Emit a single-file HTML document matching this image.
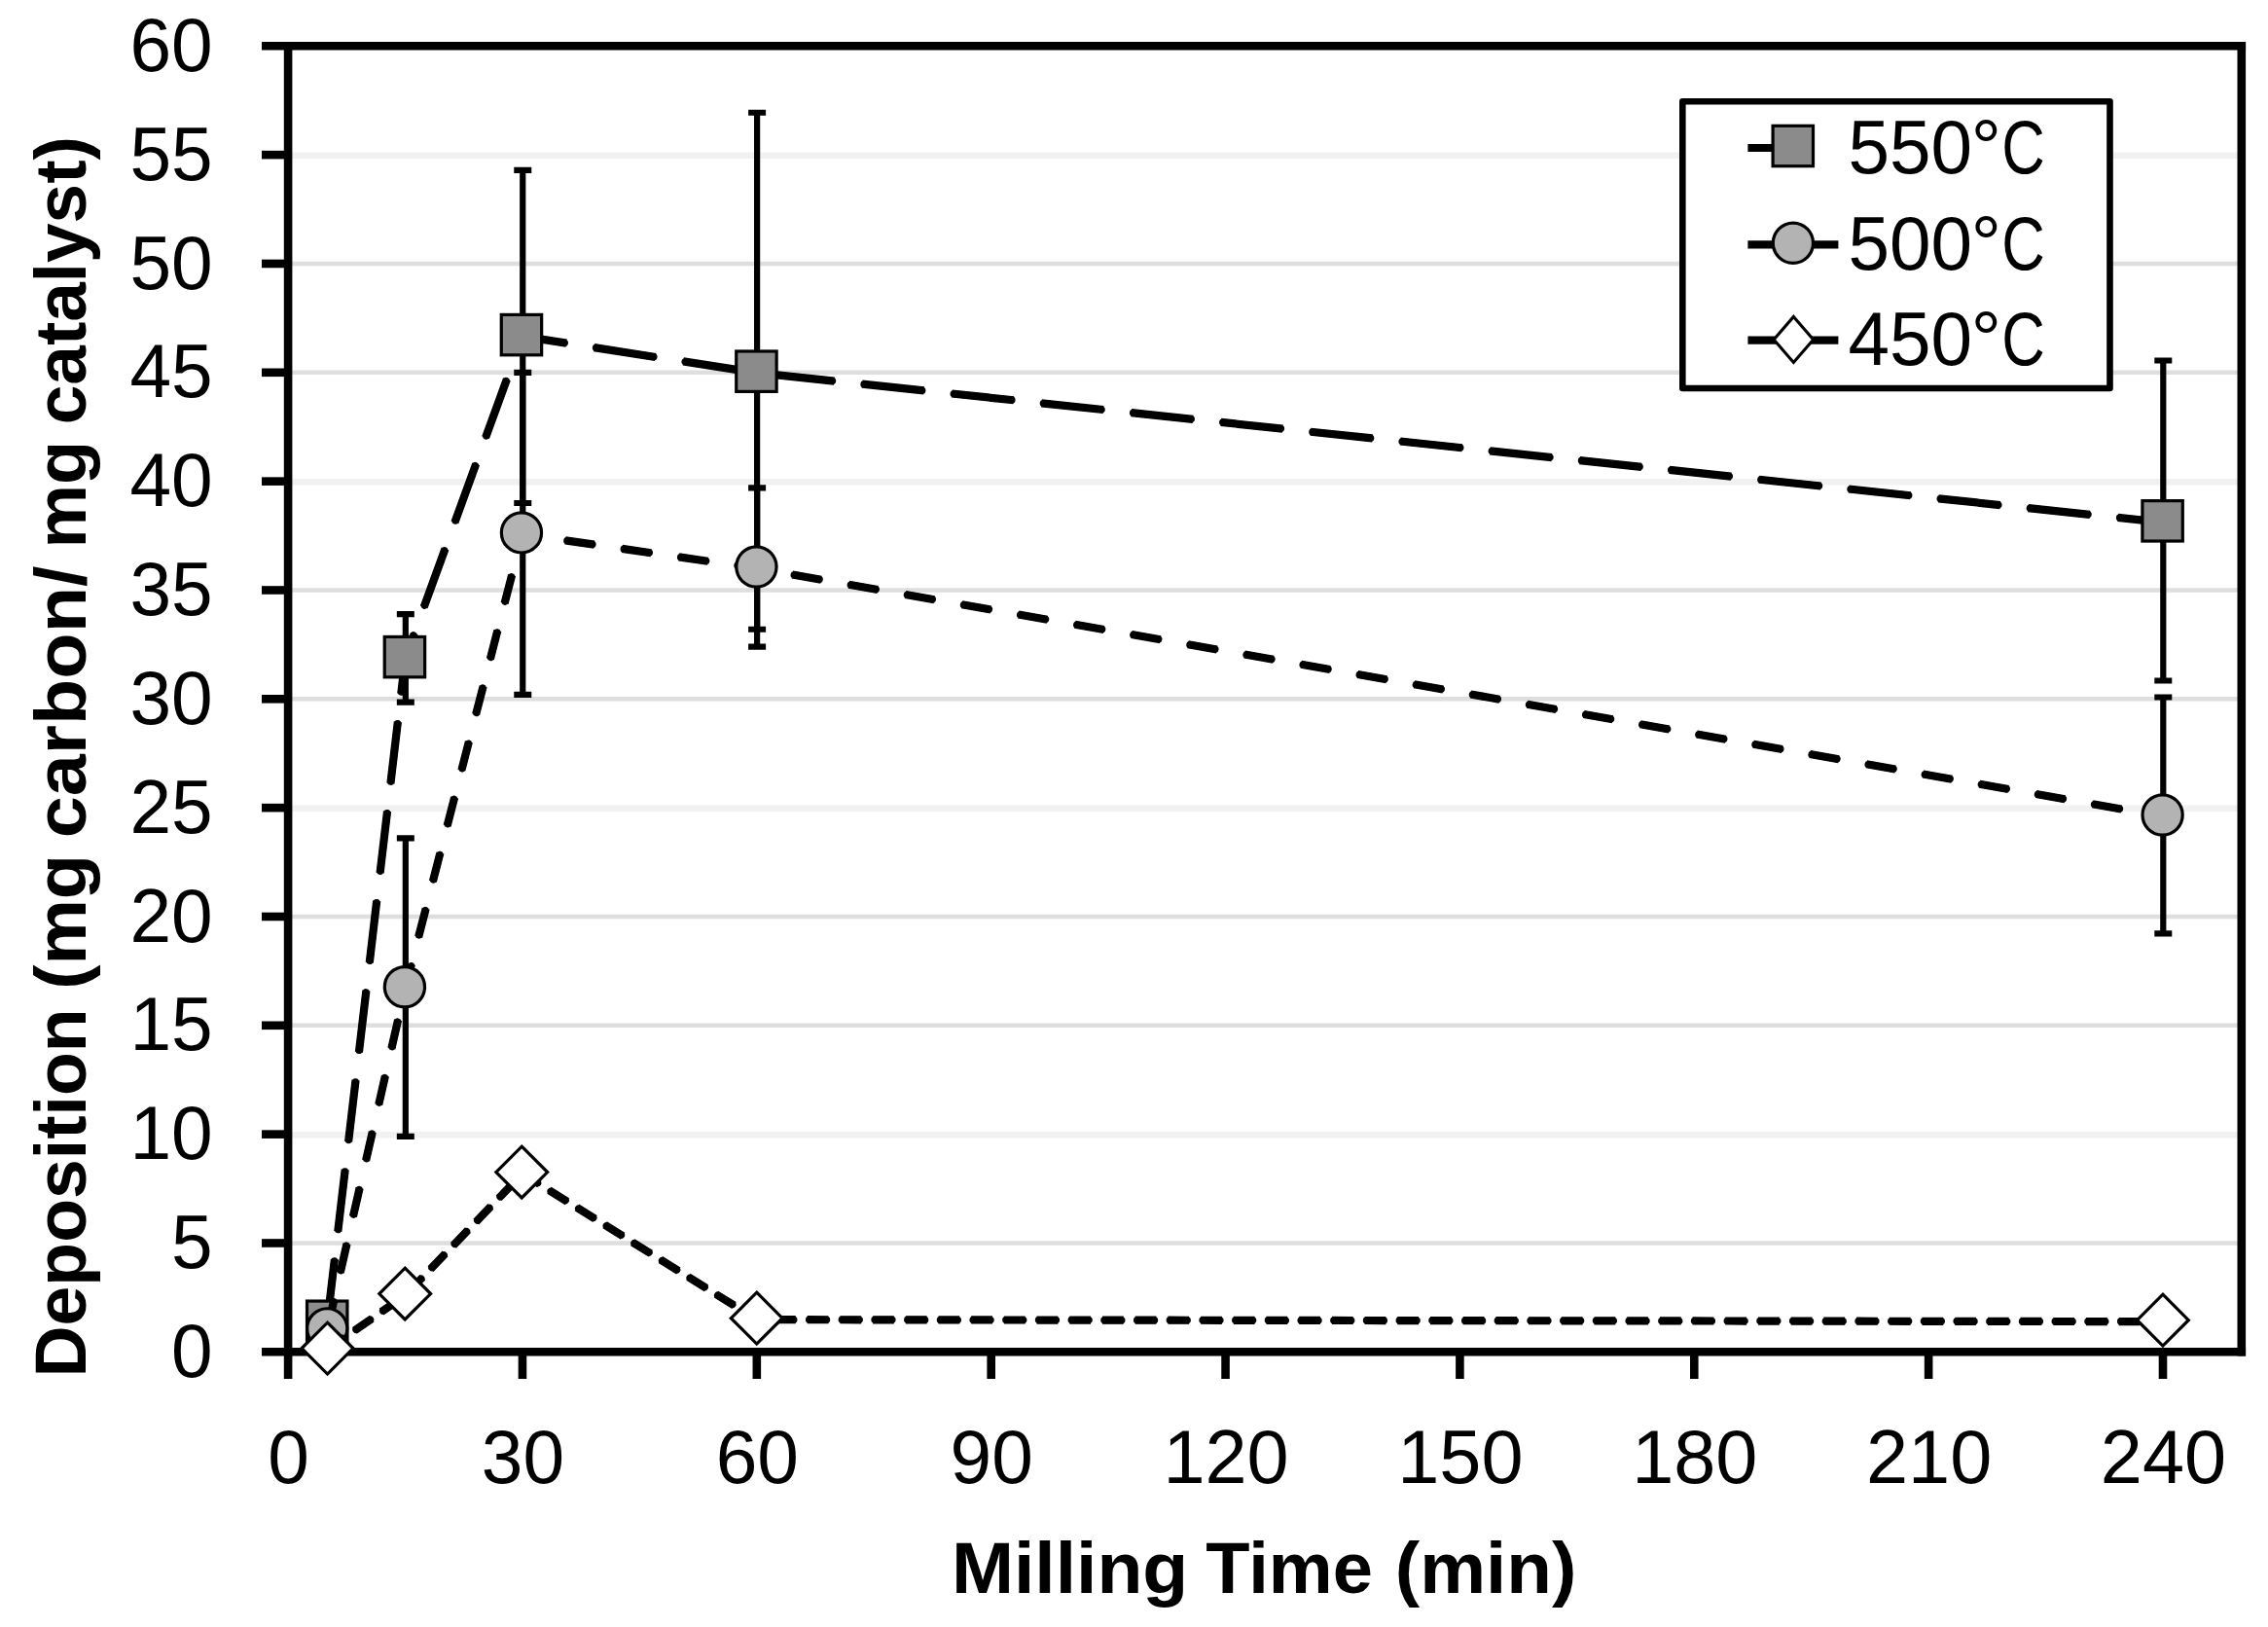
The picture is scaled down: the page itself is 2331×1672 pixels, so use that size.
<!DOCTYPE html>
<html lang="en"><head><meta charset="utf-8"><title>Deposition vs Milling Time</title>
<style>html,body{margin:0;padding:0;background:#fff}svg{display:block}text{font-family:"Liberation Sans",sans-serif;fill:#000}.b{font-weight:bold}</style></head><body>
<svg width="2331" height="1672" viewBox="0 0 2331 1672">
<rect width="2331" height="1672" fill="#fff"/>
<g fill="none">
<line x1="296.1" x2="2303.8" y1="1277.47" y2="1277.47" stroke="#dedede" stroke-width="4.6"/>
<line x1="296.1" x2="2303.8" y1="1166.23" y2="1166.23" stroke="#f1f1f1" stroke-width="6.6"/>
<line x1="296.1" x2="2303.8" y1="1053.80" y2="1053.80" stroke="#dedede" stroke-width="4.6"/>
<line x1="296.1" x2="2303.8" y1="941.97" y2="941.97" stroke="#dedede" stroke-width="4.6"/>
<line x1="296.1" x2="2303.8" y1="830.73" y2="830.73" stroke="#f1f1f1" stroke-width="6.6"/>
<line x1="296.1" x2="2303.8" y1="718.30" y2="718.30" stroke="#dedede" stroke-width="4.6"/>
<line x1="296.1" x2="2303.8" y1="606.47" y2="606.47" stroke="#dedede" stroke-width="4.6"/>
<line x1="296.1" x2="2303.8" y1="495.23" y2="495.23" stroke="#f1f1f1" stroke-width="6.6"/>
<line x1="296.1" x2="2303.8" y1="382.80" y2="382.80" stroke="#dedede" stroke-width="4.6"/>
<line x1="296.1" x2="2303.8" y1="270.97" y2="270.97" stroke="#dedede" stroke-width="4.6"/>
<line x1="296.1" x2="2303.8" y1="159.73" y2="159.73" stroke="#f1f1f1" stroke-width="6.6"/>
</g>
<g stroke="#000" stroke-width="8.6" fill="none" stroke-linecap="butt">
<line x1="269" x2="2308.10" y1="47.3" y2="47.3"/>
<line x1="269" x2="2308.10" y1="1389.3" y2="1389.3"/>
<line x1="296.1" x2="296.1" y1="43.00" y2="1417"/>
<line x1="2303.8" x2="2303.8" y1="43.00" y2="1393.60"/>
<line x1="269" x2="296.1" y1="1277.47" y2="1277.47"/>
<line x1="269" x2="296.1" y1="1165.63" y2="1165.63"/>
<line x1="269" x2="296.1" y1="1053.80" y2="1053.80"/>
<line x1="269" x2="296.1" y1="941.97" y2="941.97"/>
<line x1="269" x2="296.1" y1="830.13" y2="830.13"/>
<line x1="269" x2="296.1" y1="718.30" y2="718.30"/>
<line x1="269" x2="296.1" y1="606.47" y2="606.47"/>
<line x1="269" x2="296.1" y1="494.63" y2="494.63"/>
<line x1="269" x2="296.1" y1="382.80" y2="382.80"/>
<line x1="269" x2="296.1" y1="270.97" y2="270.97"/>
<line x1="269" x2="296.1" y1="159.13" y2="159.13"/>
<line x1="536.96" x2="536.96" y1="1389.3" y2="1417"/>
<line x1="777.83" x2="777.83" y1="1389.3" y2="1417"/>
<line x1="1018.69" x2="1018.69" y1="1389.3" y2="1417"/>
<line x1="1259.55" x2="1259.55" y1="1389.3" y2="1417"/>
<line x1="1500.41" x2="1500.41" y1="1389.3" y2="1417"/>
<line x1="1741.28" x2="1741.28" y1="1389.3" y2="1417"/>
<line x1="1982.14" x2="1982.14" y1="1389.3" y2="1417"/>
<line x1="2223.00" x2="2223.00" y1="1389.3" y2="1417"/>
</g>
<g id="s550">
<polyline points="336.24,1359.26 416.53,676.63 536.96,345.61 777.83,383.18 2223.00,536.84" fill="none" stroke="#000" stroke-width="8.2" stroke-dasharray="63.80 28.90" stroke-dashoffset="-1.80"/>
<polyline points="336.24,1359.26 416.53,676.63 536.96,345.61 777.83,383.18 2223.00,536.84" fill="none" stroke="#000" stroke-width="7.00" stroke-linecap="round" stroke-dasharray="60.40 32.30" stroke-dashoffset="-3.50"/>
<path d="M416.83 631.07V721.65M407.83 631.07H425.83M407.83 721.65H425.83" stroke="#000" stroke-width="6.2" fill="none"/>
<path d="M537.26 174.79V517.00M528.26 174.79H546.26M528.26 517.00H546.26" stroke="#000" stroke-width="6.2" fill="none"/>
<path d="M778.12 115.74V646.73M769.12 115.74H787.12M769.12 646.73H787.12" stroke="#000" stroke-width="6.2" fill="none"/>
<path d="M2223.30 370.50V699.51M2214.30 370.50H2232.30M2214.30 699.51H2232.30" stroke="#000" stroke-width="6.2" fill="none"/>
<rect x="315.54" y="1337.06" width="41.4" height="41.4" fill="#8b8b8b" stroke="#000" stroke-width="3.2"/>
<rect x="395.23" y="654.43" width="41.4" height="41.4" fill="#8b8b8b" stroke="#000" stroke-width="3.2"/>
<rect x="515.26" y="323.41" width="41.4" height="41.4" fill="#8b8b8b" stroke="#000" stroke-width="3.2"/>
<rect x="756.73" y="360.98" width="41.4" height="41.4" fill="#8b8b8b" stroke="#000" stroke-width="3.2"/>
<rect x="2201.90" y="514.64" width="41.4" height="41.4" fill="#8b8b8b" stroke="#000" stroke-width="3.2"/>
</g>
<g id="s500">
<polyline points="336.24,1366.87 416.53,1015.71 536.96,548.92 777.83,584.03 2223.00,839.01" fill="none" stroke="#000" stroke-width="8.2" stroke-dasharray="30.10 28.90" stroke-dashoffset="-1.80"/>
<polyline points="336.24,1366.87 416.53,1015.71 536.96,548.92 777.83,584.03 2223.00,839.01" fill="none" stroke="#000" stroke-width="7.00" stroke-linecap="round" stroke-dasharray="26.70 32.30" stroke-dashoffset="-3.50"/>
<path d="M416.83 861.45V1167.87M407.83 861.45H425.83M407.83 1167.87H425.83" stroke="#000" stroke-width="6.2" fill="none"/>
<path d="M537.26 382.80V713.83M528.26 382.80H546.26M528.26 713.83H546.26" stroke="#000" stroke-width="6.2" fill="none"/>
<path d="M778.12 501.34V664.62M769.12 501.34H787.12M769.12 664.62H787.12" stroke="#000" stroke-width="6.2" fill="none"/>
<path d="M2223.30 716.51V959.41M2214.30 716.51H2232.30M2214.30 959.41H2232.30" stroke="#000" stroke-width="6.2" fill="none"/>
<circle cx="336.24" cy="1365.37" r="20.6" fill="#b3b3b3" stroke="#000" stroke-width="3.2"/>
<circle cx="415.93" cy="1014.21" r="20.6" fill="#b3b3b3" stroke="#000" stroke-width="3.2"/>
<circle cx="535.96" cy="547.42" r="20.6" fill="#b3b3b3" stroke="#000" stroke-width="3.2"/>
<circle cx="777.43" cy="582.53" r="20.6" fill="#b3b3b3" stroke="#000" stroke-width="3.2"/>
<circle cx="2222.60" cy="837.51" r="20.6" fill="#b3b3b3" stroke="#000" stroke-width="3.2"/>
</g>
<g id="s450">
<polyline points="336.24,1387.11 416.53,1331.08 536.96,1206.05 777.83,1356.13 2223.00,1358.14" fill="none" stroke="#000" stroke-width="8.2" stroke-dasharray="21.70 12.00" stroke-dashoffset="-0.60"/>
<polyline points="336.24,1387.11 416.53,1331.08 536.96,1206.05 777.83,1356.13 2223.00,1358.14" fill="none" stroke="#000" stroke-width="7.00" stroke-linecap="round" stroke-dasharray="18.30 15.40" stroke-dashoffset="-2.30"/>
<path d="M336.54 1359.21L362.94 1385.61L336.54 1412.01L310.14 1385.61Z" fill="#fff" stroke="#000" stroke-width="3.2" stroke-linejoin="miter"/>
<path d="M416.23 1303.18L442.63 1329.58L416.23 1355.98L389.83 1329.58Z" fill="#fff" stroke="#000" stroke-width="3.2" stroke-linejoin="miter"/>
<path d="M536.26 1178.15L562.66 1204.55L536.26 1230.95L509.86 1204.55Z" fill="#fff" stroke="#000" stroke-width="3.2" stroke-linejoin="miter"/>
<path d="M777.73 1328.23L804.12 1354.63L777.73 1381.03L751.33 1354.63Z" fill="#fff" stroke="#000" stroke-width="3.2" stroke-linejoin="miter"/>
<path d="M2222.90 1330.24L2249.30 1356.64L2222.90 1383.04L2196.50 1356.64Z" fill="#fff" stroke="#000" stroke-width="3.2" stroke-linejoin="miter"/>
</g>
<g id="legend">
<rect x="1729.3" y="104.2" width="439.2" height="294.8" fill="#fff" stroke="#000" stroke-width="6.6" stroke-linejoin="round"/>
<path d="M1796.4 152.0H1859" stroke="#000" stroke-width="8.2" fill="none"/>
<rect x="1822.10" y="129.30" width="41.4" height="41.4" fill="#8b8b8b" stroke="#000" stroke-width="3.2"/>
<path d="M1796.4 251.4H1830M1855 251.4H1889.4" stroke="#000" stroke-width="8.2" fill="none"/>
<circle cx="1842.90" cy="249.80" r="20.6" fill="#b3b3b3" stroke="#000" stroke-width="3.2"/>
<path d="M1796.4 349.6H1889.4" stroke="#000" stroke-width="8.2" fill="none"/>
<path d="M1843.4 325.4L1863.7 348.9L1843.4 372.4L1823.1 348.9Z" fill="#fff" stroke="#000" stroke-width="3.1"/>
<text y="178.1" font-size="78"><tspan x="1899.5" textLength="127.6" lengthAdjust="spacingAndGlyphs">550</tspan><tspan x="2025.7">°</tspan><tspan x="2057.3" textLength="44.5" lengthAdjust="spacingAndGlyphs">C</tspan></text>
<text y="276.9" font-size="78"><tspan x="1899.5" textLength="127.6" lengthAdjust="spacingAndGlyphs">500</tspan><tspan x="2025.7">°</tspan><tspan x="2057.3" textLength="44.5" lengthAdjust="spacingAndGlyphs">C</tspan></text>
<text y="375.4" font-size="78"><tspan x="1899.5" textLength="127.6" lengthAdjust="spacingAndGlyphs">450</tspan><tspan x="2025.7">°</tspan><tspan x="2057.3" textLength="44.5" lengthAdjust="spacingAndGlyphs">C</tspan></text>
</g>
<g font-size="78">
<text x="218.7" y="1414.90" text-anchor="end" textLength="42.60" lengthAdjust="spacingAndGlyphs">0</text>
<text x="218.7" y="1303.07" text-anchor="end" textLength="42.60" lengthAdjust="spacingAndGlyphs">5</text>
<text x="218.7" y="1191.23" text-anchor="end" textLength="85.20" lengthAdjust="spacingAndGlyphs">10</text>
<text x="218.7" y="1079.40" text-anchor="end" textLength="85.20" lengthAdjust="spacingAndGlyphs">15</text>
<text x="218.7" y="967.57" text-anchor="end" textLength="85.20" lengthAdjust="spacingAndGlyphs">20</text>
<text x="218.7" y="855.73" text-anchor="end" textLength="85.20" lengthAdjust="spacingAndGlyphs">25</text>
<text x="218.7" y="743.90" text-anchor="end" textLength="85.20" lengthAdjust="spacingAndGlyphs">30</text>
<text x="218.7" y="632.07" text-anchor="end" textLength="85.20" lengthAdjust="spacingAndGlyphs">35</text>
<text x="218.7" y="520.23" text-anchor="end" textLength="85.20" lengthAdjust="spacingAndGlyphs">40</text>
<text x="218.7" y="408.40" text-anchor="end" textLength="85.20" lengthAdjust="spacingAndGlyphs">45</text>
<text x="218.7" y="296.57" text-anchor="end" textLength="85.20" lengthAdjust="spacingAndGlyphs">50</text>
<text x="218.7" y="184.73" text-anchor="end" textLength="85.20" lengthAdjust="spacingAndGlyphs">55</text>
<text x="218.7" y="72.90" text-anchor="end" textLength="85.20" lengthAdjust="spacingAndGlyphs">60</text>
<text x="296.60" y="1524" text-anchor="middle" textLength="42.60" lengthAdjust="spacingAndGlyphs">0</text>
<text x="537.46" y="1524" text-anchor="middle" textLength="85.20" lengthAdjust="spacingAndGlyphs">30</text>
<text x="778.33" y="1524" text-anchor="middle" textLength="85.20" lengthAdjust="spacingAndGlyphs">60</text>
<text x="1019.19" y="1524" text-anchor="middle" textLength="85.20" lengthAdjust="spacingAndGlyphs">90</text>
<text x="1260.05" y="1524" text-anchor="middle" textLength="129.30" lengthAdjust="spacingAndGlyphs">120</text>
<text x="1500.91" y="1524" text-anchor="middle" textLength="129.30" lengthAdjust="spacingAndGlyphs">150</text>
<text x="1741.78" y="1524" text-anchor="middle" textLength="129.30" lengthAdjust="spacingAndGlyphs">180</text>
<text x="1982.64" y="1524" text-anchor="middle" textLength="129.30" lengthAdjust="spacingAndGlyphs">210</text>
<text x="2223.50" y="1524" text-anchor="middle" textLength="129.30" lengthAdjust="spacingAndGlyphs">240</text>
</g>
<text class="b" y="1637.2" font-size="73.5"><tspan x="978.0" textLength="243.3" lengthAdjust="spacingAndGlyphs">Milling</tspan> <tspan x="1239.3" textLength="171.6" lengthAdjust="spacingAndGlyphs">Time</tspan> <tspan x="1433.8" textLength="186.6" lengthAdjust="spacingAndGlyphs">(min)</tspan></text>
<text class="b" transform="translate(87.5 1411.4) rotate(-90)" y="0" font-size="73.5"><tspan x="-4.0" textLength="379.0" lengthAdjust="spacingAndGlyphs">Deposition</tspan> <tspan x="394.6" textLength="139.0" lengthAdjust="spacingAndGlyphs">(mg</tspan> <tspan x="550.1" textLength="279.8" lengthAdjust="spacingAndGlyphs">carbon/</tspan> <tspan x="847.9" textLength="110.6" lengthAdjust="spacingAndGlyphs">mg</tspan> <tspan x="975.2" textLength="296.0" lengthAdjust="spacingAndGlyphs">catalyst)</tspan></text>
</svg></body></html>
